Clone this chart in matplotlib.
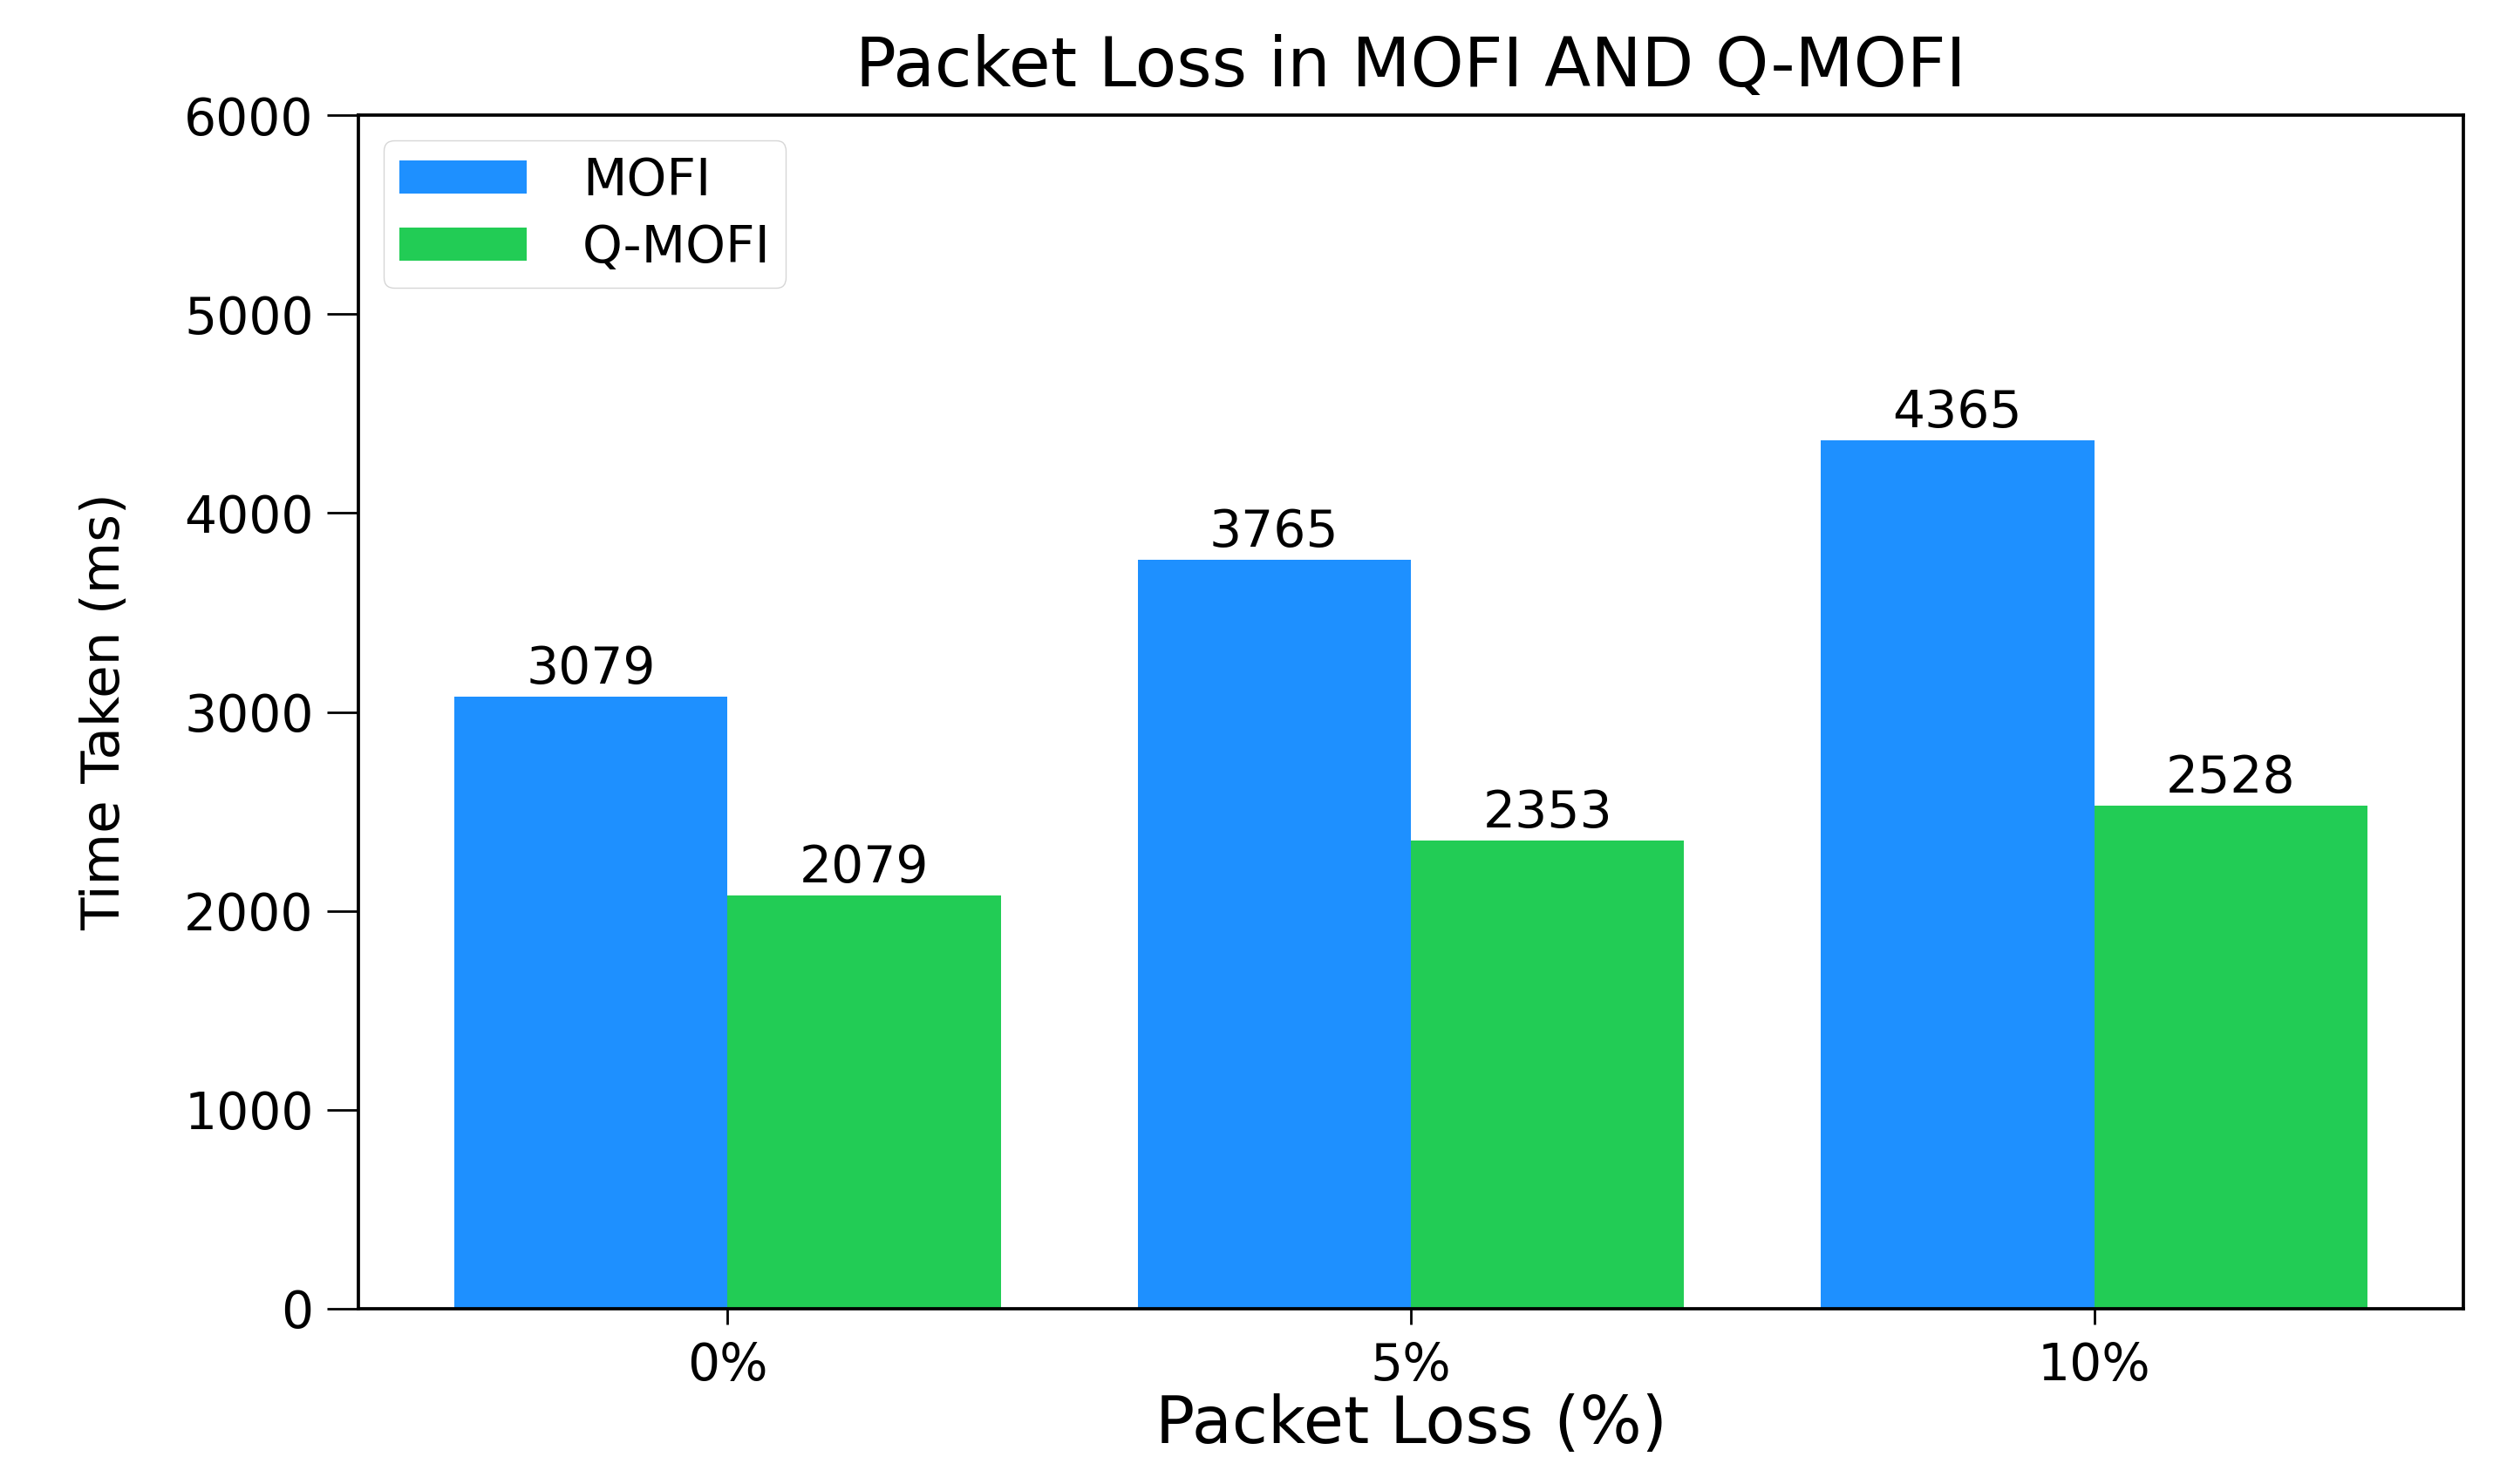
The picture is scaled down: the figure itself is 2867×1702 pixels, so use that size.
import numpy as np
import matplotlib
matplotlib.use("Agg")
import matplotlib.pyplot as plt

# data
loss_levels = ['0%', '5%', '10%']
mofi_ms = [3079, 3765, 4365]
qmofi_ms = [2079, 2353, 2528]

x = np.arange(len(loss_levels))
w = 0.4

fig, ax = plt.subplots(figsize=(28.67, 17.02), dpi=100)
fig.subplots_adjust(left=0.1434, right=0.9853, bottom=0.1181, top=0.9224)

b1 = ax.bar(x - w/2, mofi_ms, w, color='#1E90FF', label='MOFI')
b2 = ax.bar(x + w/2, qmofi_ms, w, color='#22CC55', label='Q-MOFI')

ax.bar_label(b1, padding=2, fontsize=42)
ax.bar_label(b2, padding=2, fontsize=42)

ax.set_ylim(0, 6000)
ax.set_yticks(range(0, 6001, 1000))
ax.set_xticks(x)
ax.set_xticklabels(loss_levels)

ax.set_title('Packet Loss in MOFI AND Q-MOFI', fontsize=56, pad=24)
ax.set_xlabel('Packet Loss (%)', fontsize=54, labelpad=2)
ax.set_ylabel('Time Taken (ms)', fontsize=44, labelpad=44)

ax.tick_params(axis='y', labelsize=42, length=26, width=2, pad=11)
ax.tick_params(axis='x', labelsize=42, length=13, width=2, pad=14)
for s in ax.spines.values():
    s.set_linewidth(2.7)

ax.legend(loc='upper left', fontsize=42, handlelength=2.5, handleheight=0.62,
          handletextpad=1.1, labelspacing=0.34, borderpad=0.3, borderaxespad=0.5)

plt.savefig('out.png', dpi=100)
